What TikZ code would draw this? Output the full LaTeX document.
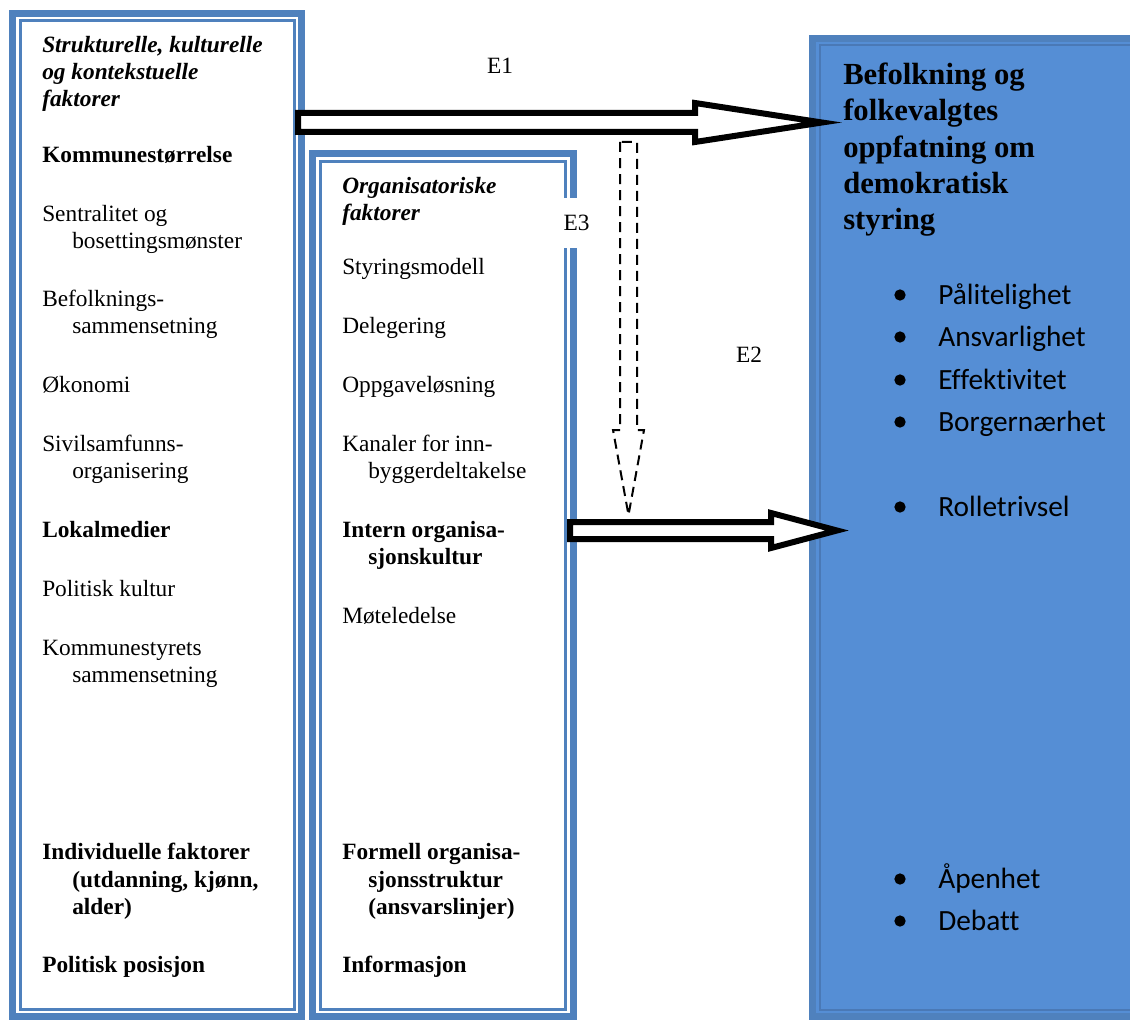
\documentclass[tikz,border=0pt]{standalone}
\usepackage{fontspec}
\setmainfont{Liberation Serif}
\newfontfamily\bulletfont[Ligatures=NoCommon]{Carlito}
\usetikzlibrary{calc}

\definecolor{frameblue}{RGB}{79,129,189}
\definecolor{boxblue}{RGB}{85,142,213}
\definecolor{edgeblue}{RGB}{74,121,182}

\tikzset{
  outerframe/.style={draw=frameblue, line width=5.25pt, inner sep=0pt, outer sep=0pt},
  innerframe/.style={draw=frameblue, line width=2.25pt},
  txt/.style={anchor=base west, inner sep=0pt, font=\fontsize{17.5}{21}\selectfont},
  bld/.style={anchor=base west, inner sep=0pt, font=\fontsize{17.5}{21}\selectfont\bfseries},
  hdr/.style={anchor=base west, inner sep=0pt, font=\fontsize{17.5}{21}\selectfont\bfseries\itshape},
  bighdr/.style={anchor=base west, inner sep=0pt, font=\fontsize{23}{27}\selectfont\bfseries},
  itemtxt/.style={anchor=base west, inner sep=0pt, font=\bulletfont\fontsize{22}{26}\selectfont},
  itemdot/.style={circle, fill=black, inner sep=0pt, minimum size=8.5pt},
  elabel/.style={inner sep=0pt, font=\fontsize{17.5}{21}\selectfont},
  hollow/.style={draw=black, fill=white, line width=4.5pt, line join=miter},
  hollowdash/.style={draw=black, fill=white, line width=1.5pt, line join=miter, dash pattern=on 7.5pt off 4.5pt}
}

% block arrow: [style]{from}{to}{half shaft}{head length}{half head}
\newcommand{\blockarrow}[6][]{%
  \path ($(#3)!#5!(#2)$) coordinate (bahead);
  \draw[#1] ($(#2)!#4!90:(#3)$) -- ($(bahead)!#4!-90:(#2)$) -- ($(bahead)!#6!-90:(#2)$) -- (#3)
    -- ($(bahead)!#6!90:(#2)$) -- ($(bahead)!#4!90:(#2)$) -- ($(#2)!#4!-90:(#3)$) -- cycle;
}

\begin{document}
\begin{tikzpicture}[x=0.75pt,y=0.75pt,yscale=-1,xscale=1]
\useasboundingbox (0,0) rectangle (1130,1020);
\clip (0,0) rectangle (1130,1020);

% boxes
\node [outerframe, minimum width=216.75pt, minimum height=752.25pt] (lbox) at (157,515) {};
\draw [innerframe] ($(lbox.north west)+(7.5,7.5)$) rectangle ($(lbox.south east)+(-7.5,-7.5)$);
\node [outerframe, minimum width=195.375pt, minimum height=647.25pt] (mbox) at (442.75,585) {};
\draw [innerframe] ($(mbox.north west)+(7.5,7.5)$) rectangle ($(mbox.south east)+(-7.5,-7.5)$);
\node [outerframe, fill=boxblue, minimum width=253.125pt, minimum height=733.5pt] (rbox) at (981.25,527.5) {};
\draw [draw=edgeblue, line width=1.5pt] ($(rbox.north west)+(7,7)$) rectangle ($(rbox.south east)+(-7,-7)$);

% Text Node
\draw (42,53) node [hdr] (s1) {Strukturelle, kulturelle};
\draw (42,80) node [hdr] (s2) {og kontekstuelle};
\draw (42,107) node [hdr] (s3) {faktorer};
\draw (42,162) node [bld] (kstr) {Kommunestørrelse};
\draw (42,221) node [txt] (sent) {Sentralitet og};
\draw (72,248) node [txt] (sent2) {bosettingsmønster};
\draw (42,306) node [txt] (befs) {Befolknings-};
\draw (72,333) node [txt] (befs2) {sammensetning};
\draw (42,392) node [txt] (okon) {Økonomi};
\draw (42,451) node [txt] (sivil) {Sivilsamfunns-};
\draw (72,478) node [txt] (sivil2) {organisering};
\draw (42,537) node [bld] (lokm) {Lokalmedier};
\draw (42,596) node [txt] (polk) {Politisk kultur};
\draw (42,655) node [txt] (kst) {Kommunestyrets};
\draw (72,682) node [txt] (kst2) {sammensetning};
\draw (42,859) node [bld] (indiv) {Individuelle faktorer};
\draw (72,887) node [bld] (indiv2) {(utdanning, kjønn,};
\draw (72,914) node [bld] (indiv3) {alder)};
\draw (42,972) node [bld] (polp) {Politisk posisjon};

% Text Node
\draw (342,193) node [hdr] (o1) {Organisatoriske};
\draw (342,220) node [hdr] (o2) {faktorer};
\draw (342,274) node [txt] (stym) {Styringsmodell};
\draw (342,333) node [txt] (deleg) {Delegering};
\draw (342,392) node [txt] (oppg) {Oppgaveløsning};
\draw (342,451) node [txt] (kan) {Kanaler for inn-};
\draw (368,478) node [txt] (kan2) {byggerdeltakelse};
\draw (342,537) node [bld] (intern) {Intern organisa-};
\draw (368,564) node [bld] (intern2) {sjonskultur};
\draw (342,623) node [txt] (mote) {Møteledelse};
\draw (342,859) node [bld] (form) {Formell organisa-};
\draw (368,887) node [bld] (form2) {sjonsstruktur};
\draw (368,914) node [bld] (form3) {(ansvarslinjer)};
\draw (342,972) node [bld] (info) {Informasjon};

% Text Node
\draw (843,85) node [bighdr] (b1) {Befolkning og};
\draw (843,121) node [bighdr] (b2) {folkevalgtes};
\draw (843,157) node [bighdr] (b3) {oppfatning om};
\draw (843,193) node [bighdr] (b4) {demokratisk};
\draw (843,229) node [bighdr] (b5) {styring};

\draw (900,295) node [itemdot] (d1) {};
\draw (938,304) node [itemtxt] (i1) {Pålitelighet};
\draw (900,337) node [itemdot] (d2) {};
\draw (938,346) node [itemtxt] (i2) {Ansvarlighet};
\draw (900,380) node [itemdot] (d3) {};
\draw (938,389) node [itemtxt] (i3) {Effektivitet};
\draw (900,422) node [itemdot] (d4) {};
\draw (938,431) node [itemtxt] (i4) {Borgernærhet};
\draw (900,507) node [itemdot] (d5) {};
\draw (938,516) node [itemtxt] (i5) {Rolletrivsel};
\draw (900,879) node [itemdot] (d6) {};
\draw (938,888) node [itemtxt] (i6) {Åpenhet};
\draw (900,921) node [itemdot] (d7) {};
\draw (938,930) node [itemtxt] (i7) {Debatt};

% arrows
\coordinate (e1a) at ($(lbox.east |- 0,122.5)+(-3.5,0)$);
\coordinate (e1b) at ($(rbox.west |- e1a)+(9.5,0)$);
\coordinate (e2a) at ($(mbox.east |- 0,530.5)+(-3,0)$);
\coordinate (e2b) at ($(rbox.west |- e2a)+(24.5,0)$);
\coordinate (e3a) at (628.5,142);
\coordinate (e3b) at ($(e3a |- e2a)+(0,-15.5)$);
\blockarrow[hollow]{e1a}{e1b}{7.125pt}{95.25pt}{14.625pt}
\blockarrow[hollowdash]{e3a}{e3b}{6.375pt}{63.75pt}{11.625pt}
\blockarrow[hollow]{e2a}{e2b}{6.375pt}{49.5pt}{13.125pt}

% Text Node
\draw (500,66) node [elabel] (E1) {E1};
\draw (749,355) node [elabel] (E2) {E2};
\draw (576.5,223) node [elabel, fill=white, minimum width=20.25pt, minimum height=37.5pt] (E3) {E3};
\end{tikzpicture}
\end{document}
